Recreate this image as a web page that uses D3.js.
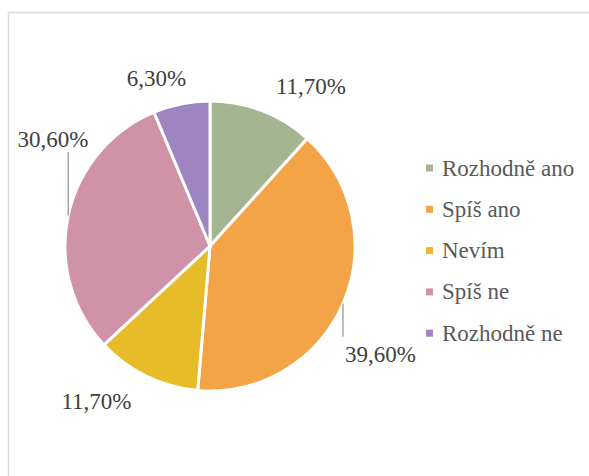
<!DOCTYPE html>
<html>
<head>
<meta charset="utf-8">
<script src="https://cdn.jsdelivr.net/npm/d3@7"></script>
</head>
<body style="margin:0">
<svg width="589" height="476" font-family="Liberation Serif"></svg>
<script>
// data
var categories = ["Rozhodně ano", "Spíš ano", "Nevím", "Spíš ne", "Rozhodně ne"];
var values = [11.7, 39.6, 11.7, 30.6, 6.3];
var labels = ["11,70%", "39,60%", "11,70%", "30,60%", "6,30%"];
var colors = ["#a5b592", "#f3a447", "#e7bc29", "#d092a7", "#9c85c0"];

var svg = d3.select("svg");
var width = +svg.attr("width");
var height = +svg.attr("height");

// chart area frame (runs off the page on right and bottom)
svg.append("rect")
    .attr("x", 8.5)
    .attr("y", 12.5)
    .attr("width", width)
    .attr("height", height)
    .attr("fill", "none")
    .attr("stroke", "#d9d9d9")
    .attr("stroke-width", 1.5);

var cx = 210, cy = 246, radius = 145;

var pie = d3.pie().sort(null).value(d => d);
var arcs = pie(values);

var arc = d3.arc().innerRadius(0).outerRadius(radius);

var g = svg.append("g").attr("transform", `translate(${cx},${cy})`);

g.selectAll(".slice")
  .data(arcs)
  .enter()
  .append("path")
    .attr("class", "slice")
    .attr("d", arc)
    .attr("fill", (d, i) => colors[i])
    .attr("stroke", "#fff")
    .attr("stroke-width", 3)
    .attr("stroke-linejoin", "round");

// labels: placed off the mid angle, then nudged like excel's best fit
var labelArc = d3.arc().innerRadius(175).outerRadius(175);
var nudge = [[38, 11], [10, 46], [-37, 6], [14, -62], [-19, 12]];
// leader: offset of line end from label baseline (null = no leader)
var leader = [null, -25, null, 5, null];

function midPoint(d, r) {
  var a = (d.startAngle + d.endAngle) / 2;
  return [r * Math.sin(a), -r * Math.cos(a)];
}

arcs.forEach((d, i) => {
  var c = labelArc.centroid(d);
  var x = c[0] + nudge[i][0];
  var y = c[1] + nudge[i][1];
  if (leader[i] !== null) {
    var p = midPoint(d, radius);
    g.append("line")
        .attr("x1", p[0])
        .attr("y1", p[1])
        .attr("x2", p[0])
        .attr("y2", y + leader[i])
        .attr("stroke", "#a6a6a6")
        .attr("stroke-width", 1.5);
  }
  g.append("text")
      .attr("x", x)
      .attr("y", y)
      .attr("text-anchor", "middle")
      .attr("font-family", "Liberation Serif")
      .attr("font-size", 23)
      .attr("fill", "#404040")
      .text(labels[i]);
});

// legend
var legend = svg.append("g").attr("transform", "translate(426,168)");
var rowH = 41.3;

var item = legend.selectAll(".item")
  .data(categories)
  .enter()
  .append("g")
    .attr("class", "item")
    .attr("transform", (d, i) => `translate(0,${i * rowH})`);

item.append("rect")
    .attr("x", 0)
    .attr("y", -3.5)
    .attr("width", 7)
    .attr("height", 7)
    .attr("fill", (d, i) => colors[i]);

item.append("text")
    .attr("x", 16)
    .attr("dy", "0.33em")
    .attr("font-family", "Liberation Serif")
    .attr("font-size", 23)
    .attr("fill", "#595959")
    .text(d => d);
</script>
</body>
</html>
